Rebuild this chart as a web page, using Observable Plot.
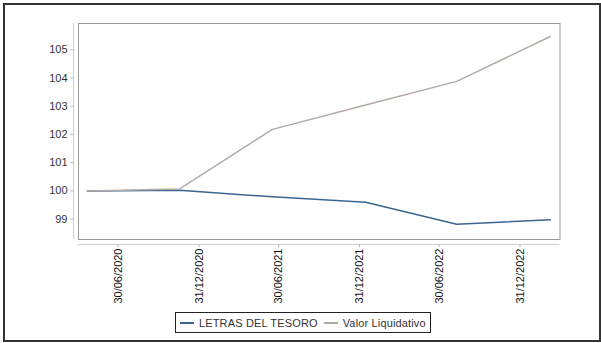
<!DOCTYPE html>
<html>
<head>
<meta charset="utf-8">
<script src="https://cdn.jsdelivr.net/npm/d3@7"></script>
<script src="https://cdn.jsdelivr.net/npm/@observablehq/plot@0.6"></script>
<style>
  html, body { margin: 0; padding: 0; background: #fff; }
  #wrap { position: relative; width: 601px; height: 343px; font-family: "Liberation Sans", Arial, sans-serif; }
  #border { position: absolute; left: 3px; top: 3px; width: 594px; height: 335px; border: 2px solid #333; box-sizing: content-box; pointer-events: none; }
  #chart { position: absolute; left: 0; top: 0; }
  #legend { position: absolute; left: 175px; top: 312px; height: 19px; border: 1px solid #222; display: flex; align-items: center; padding: 0 4px 0 4px; font-size: 11px; color: #333; white-space: nowrap; letter-spacing: 0.15px; background: #fff; }
  .sw { display: inline-block; width: 14px; height: 0; border-top: 2px solid; margin-right: 5px; }
  .item { display: flex; align-items: center; margin-right: 6px; }
  .item:last-child { margin-right: 0; }
</style>
</head>
<body>
<div id="wrap">
  <div id="chart"></div>
  <div id="border"></div>
  <div id="legend"></div>
</div>
<script>
const dates = ["2020-04-21", "2020-11-17", "2021-06-16", "2022-01-14", "2022-08-09", "2023-03-10"];
const letras = [100.0, 100.02, 99.79, 99.60, 98.82, 98.98];
const valor = [100.0, 100.07, 102.18, 103.04, 103.88, 105.47];
const seriesNames = ["LETRAS DEL TESORO", "Valor Liquidativo"];
const seriesColors = ["#3b6590", "#b3aaa6"];
const tickDates = ["2020-06-30", "2020-12-31", "2021-06-30", "2021-12-31", "2022-06-30", "2022-12-31"];
const yTicks = [99, 100, 101, 102, 103, 104, 105];
const xDomain = ["2020-04-01", "2023-04-01"];
const yDomain = [98.28, 105.93];

const parse = d3.utcParse("%Y-%m-%d");
const fmt = d3.utcFormat("%d/%m/%Y");
const rows = [];
dates.forEach((d, i) => {
  rows.push({date: parse(d), value: letras[i], series: seriesNames[0]});
  rows.push({date: parse(d), value: valor[i], series: seriesNames[1]});
});

const plot = Plot.plot({
  width: 601,
  height: 343,
  marginLeft: 78,
  marginRight: 41.5,
  marginTop: 23,
  marginBottom: 104,
  style: {fontFamily: "Liberation Sans, Arial, sans-serif", fontSize: "11px", color: "#333", background: "transparent"},
  x: {type: "utc", domain: xDomain.map(parse)},
  y: {domain: yDomain},
  color: {domain: seriesNames, range: seriesColors},
  marks: [
    Plot.ruleX([parse(xDomain[0])], {dx: -5, stroke: "#d0d0d0"}),
    Plot.ruleY([yDomain[0]], {dy: 5, stroke: "#d0d0d0"}),
    Plot.frame({stroke: "#9a9a9a"}),
    Plot.axisY(yTicks, {anchor: "left", dx: -5, tickSize: 3, tickPadding: 3, stroke: "#bbb", fill: "#333", label: null}),
    Plot.axisX(tickDates.map(parse), {anchor: "bottom", dy: 5, tickSize: 3, tickPadding: 1, tickRotate: -90, tickFormat: fmt, stroke: "#bbb", fill: "#111", label: null}),
    Plot.line(rows, {x: "date", y: "value", z: "series", stroke: "series", strokeWidth: 1.5})
  ]
});
document.getElementById("chart").appendChild(plot);

const legend = document.getElementById("legend");
seriesNames.forEach((n, i) => {
  const it = document.createElement("div");
  it.className = "item";
  const sw = document.createElement("span");
  sw.className = "sw";
  sw.style.borderTopColor = seriesColors[i];
  it.appendChild(sw);
  const t = document.createElement("span");
  t.textContent = n;
  it.appendChild(t);
  legend.appendChild(it);
});
</script>
</body>
</html>
